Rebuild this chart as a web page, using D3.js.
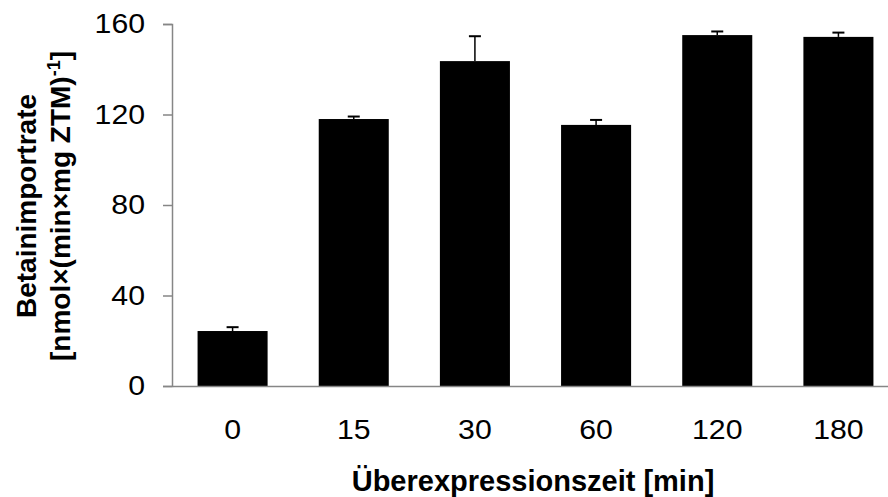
<!DOCTYPE html>
<html>
<head>
<meta charset="utf-8">
<script src="https://cdn.jsdelivr.net/npm/d3@7"></script>
<style>
  html, body { margin: 0; padding: 0; background: #fff; }
  svg { display: block; font-family: "Liberation Sans", Arial, sans-serif; }
</style>
</head>
<body>
<svg id="chart" width="888" height="497"></svg>
<script>
const categories = ["0", "15", "30", "60", "120", "180"];
const values = [24.3, 118.0, 143.6, 115.4, 155.1, 154.3];
const errors = [1.7, 1.1, 11.0, 2.2, 1.6, 1.9];
const yTicks = [0, 40, 80, 120, 160];
const xTitle = "Überexpressionszeit [min]";
const yTitle1 = "Betainimportrate";
const yTitle2a = "[nmol×(min×mg ZTM)";
const yTitle2sup = "-1";
const yTitle2b = "]";

(function () {
const svg = d3.select("#chart");
const pLeft = 172, pRight = 899, pTop = 24, pBottom = 386;
const axisColor = "#868686";

const x = d3.scaleBand().domain(categories).range([pLeft, pRight])
  .paddingInner(0.422).paddingOuter(0.211);
const y = d3.scaleLinear().domain([0, 160]).range([pBottom, pTop]);

// bars
svg.append("g").selectAll("rect").data(categories).join("rect")
  .attr("x", d => x(d))
  .attr("y", (d, i) => y(values[i]))
  .attr("width", x.bandwidth())
  .attr("height", (d, i) => y(0) - y(values[i]))
  .attr("fill", "#000");

// error bars (upper only)
const eb = svg.append("g");
categories.forEach((c, i) => {
  const cx = x(c) + x.bandwidth() / 2;
  eb.append("line").attr("x1", cx).attr("x2", cx)
    .attr("y1", y(values[i])).attr("y2", y(values[i] + errors[i]))
    .attr("stroke", "#000").attr("stroke-width", 1.5);
  eb.append("line").attr("x1", cx - 6).attr("x2", cx + 6)
    .attr("y1", y(values[i] + errors[i])).attr("y2", y(values[i] + errors[i]))
    .attr("stroke", "#000").attr("stroke-width", 2);
});

// y axis
const yAxis = svg.append("g").attr("transform", `translate(${pLeft},0)`)
  .call(d3.axisLeft(y).tickValues(yTicks).tickSize(9).tickPadding(18));
yAxis.select(".domain").attr("stroke", axisColor).attr("stroke-width", 1.5);
yAxis.selectAll(".tick line").attr("stroke", axisColor).attr("stroke-width", 1.5);
yAxis.selectAll(".tick text").attr("fill", "#000")
  .attr("transform", "translate(-27,0) scale(1.1,1) translate(27,0)")
  .style("font-size", "27.5px").style("font-family", "'Liberation Sans', Arial, sans-serif");

// x axis
const xAxis = svg.append("g").attr("transform", `translate(0,${pBottom})`)
  .call(d3.axisBottom(x).tickSize(0).tickPadding(33).tickSizeOuter(0));
xAxis.select(".domain").attr("stroke", axisColor).attr("stroke-width", 1.5);
xAxis.selectAll(".tick text").attr("fill", "#000")
  .attr("transform", "scale(1.1,1)")
  .style("font-size", "27.5px").style("font-family", "'Liberation Sans', Arial, sans-serif");

// x title
svg.append("text")
  .attr("x", 533).attr("y", 491)
  .attr("text-anchor", "middle")
  .style("font-size", "29px").style("font-weight", "bold")
  .text(xTitle);

// y title
const yt = svg.append("text")
  .attr("transform", "translate(36,206) rotate(-90)")
  .attr("text-anchor", "middle")
  .style("font-size", "28px").style("font-weight", "bold");
yt.append("tspan").attr("x", 0).attr("y", 0).text(yTitle1);
const yt2 = svg.append("text")
  .attr("transform", "translate(70,206) rotate(-90)")
  .attr("text-anchor", "middle")
  .style("font-size", "28px").style("font-weight", "bold");
yt2.append("tspan").text(yTitle2a);
yt2.append("tspan").attr("dy", -10).style("font-size", "18px").text(yTitle2sup);
yt2.append("tspan").attr("dy", 10).text(yTitle2b);
})();
</script>
</body>
</html>
